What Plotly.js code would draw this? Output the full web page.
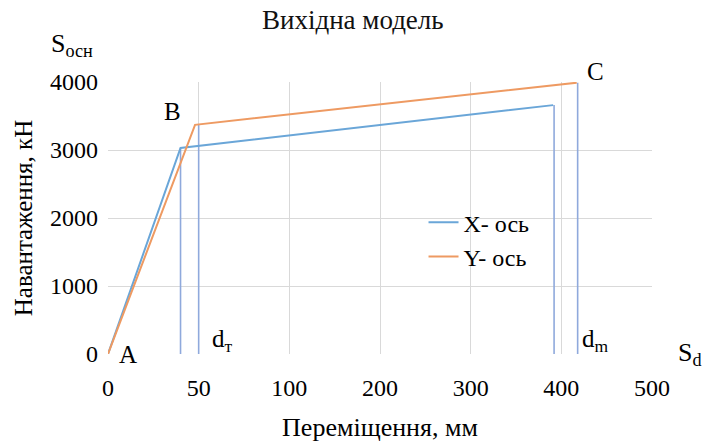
<!DOCTYPE html>
<html>
<head>
<meta charset="utf-8">
<script src="https://cdn.plot.ly/plotly-3.0.1.min.js"></script>
<style>html,body{margin:0;padding:0;background:#fff;}#chart{width:707px;height:444px;}</style>
</head>
<body>
<div id="chart"></div>
<script>
// Tick values of the (non-uniform) displacement axis, mm
const xTicks = [0, 50, 100, 200, 300, 400, 500];
const yTicks = [0, 1000, 2000, 3000, 4000];

// Series: X-axis
const xSeriesDisp = [0, 40, 391];
const xSeriesLoad = [0, 3030, 3660];
// Series: Y-axis
const ySeriesDisp = [0, 48, 417];
const ySeriesLoad = [0, 3370, 3990];

// Vertical reference lines (d_т, d_m)
const dLineDisp = [40, 50, 392, 418];
const dLineLoad = [3030, 3370, 3660, 3990];

// Map a displacement onto the equally spaced category positions of the axis
function pos(v) {
  for (let i = 0; i < xTicks.length - 1; i++) {
    if (v <= xTicks[i + 1]) {
      return i + (v - xTicks[i]) / (xTicks[i + 1] - xTicks[i]);
    }
  }
  return xTicks.length - 1;
}

const font = '"Liberation Serif", "Times New Roman", "DejaVu Serif", serif';
const traces = [];

dLineDisp.forEach((d, i) => {
  traces.push({
    x: [pos(d), pos(d)], y: [0, dLineLoad[i]],
    mode: 'lines', line: {color: '#8fa9dc', width: 1.6},
    showlegend: false, hoverinfo: 'skip'
  });
});

traces.push({
  x: xSeriesDisp.map(pos), y: xSeriesLoad, name: 'X- ось',
  mode: 'lines', line: {color: '#6aa6d8', width: 2}
});
traces.push({
  x: ySeriesDisp.map(pos), y: ySeriesLoad, name: 'Y- ось',
  mode: 'lines', line: {color: '#ee9a62', width: 2}
});

const ann = (text, x, y, size, xa) => ({
  text: text, xref: 'paper', yref: 'paper', x: x, y: y, showarrow: false,
  xanchor: xa || 'center', yanchor: 'middle',
  font: {family: font, size: size, color: '#000'}
});

const layout = {
  width: 707, height: 444,
  margin: {l: 108, r: 55, t: 82, b: 90},
  paper_bgcolor: '#fff', plot_bgcolor: '#fff',
  font: {family: font},
  title: {text: 'Вихідна модель', x: 0.45, xref: 'paper', xanchor: 'center', y: 0.955, yanchor: 'middle',
          font: {family: font, size: 27, color: '#111'}},
  xaxis: {
    range: [0, xTicks.length - 1],
    tickmode: 'array', tickvals: xTicks.map(pos), ticktext: xTicks.map(String),
    showgrid: true, gridcolor: '#d9d9d9', gridwidth: 1,
    zeroline: false, showline: false, ticks: '',
    ticklabelstandoff: 17,
    tickfont: {family: font, size: 24, color: '#000'},
    title: {text: 'Переміщення, мм', font: {family: font, size: 26, color: '#000'}, standoff: 17}
  },
  yaxis: {
    range: [0, 4000],
    tickmode: 'array', tickvals: yTicks, ticktext: yTicks.map(String),
    showgrid: true, gridcolor: '#d9d9d9', gridwidth: 1,
    zeroline: false, showline: false, ticks: '',
    ticklabelstandoff: 9,
    tickfont: {family: font, size: 24, color: '#000'},
    title: {text: 'Навантаження, кН', font: {family: font, size: 25, color: '#000'}, standoff: 10}
  },
  legend: {
    x: 0.58, y: 0.42, xanchor: 'left', yanchor: 'middle',
    bgcolor: 'rgba(255,255,255,0)', borderwidth: 0,
    font: {family: font, size: 24, color: '#000'},
    itemwidth: 30, tracegroupgap: 0
  },
  annotations: [
    ann('S<sub>осн</sub>', -0.066, 1.135, 26),
    ann('A', 0.036, 0.0, 25),
    ann('B', 0.118, 0.89, 25),
    ann('C', 0.897, 1.04, 25),
    ann('d<sub>т</sub>', 0.21, 0.05, 25),
    ann('d<sub>m</sub>', 0.897, 0.05, 25),
    ann('S<sub>d</sub>', 1.07, 0.0, 26)
  ],
  showlegend: true
};

Plotly.newPlot('chart', traces, layout, {displayModeBar: false, staticPlot: true});
</script>
</body>
</html>
